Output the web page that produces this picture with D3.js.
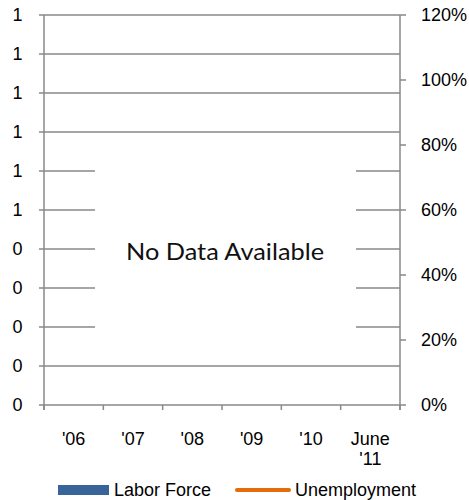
<!DOCTYPE html>
<html><head><meta charset="utf-8">
<script src="https://cdn.jsdelivr.net/npm/d3@7"></script>
<style>body{margin:0;background:#fff}svg{display:block}</style>
</head><body>
<svg id="c" width="469" height="500"></svg>
<script>
const categories = ["'06", "'07", "'08", "'09", "'10", "June\n'11"];
const seriesNames = ["Labor Force", "Unemployment"];
const seriesColors = ["#38649A", "#E46C0A"];
const laborForce = [];      // no data available
const unemployment = [];    // no data available
const leftTickValues = [0, 0.1, 0.2, 0.3, 0.4, 0.5, 0.6, 0.7, 0.8, 0.9, 1.0];
const leftTickLabels = ["0", "0", "0", "0", "0", "1", "1", "1", "1", "1", "1"];
const rightTickValues = [0, 0.2, 0.4, 0.6, 0.8, 1.0, 1.2];
const rightTickLabels = ["0%", "20%", "40%", "60%", "80%", "100%", "120%"];
const noDataText = "No Data Available";

const svg = d3.select("#c");
const L = 44, R = 400, T = 15, B = 405;
const grey = "#898989";
const font = "Liberation Sans, Arial, sans-serif";
const fs = 18;

const x = d3.scaleBand().domain(categories).range([L, R]);
const yL = d3.scaleLinear().domain([0, 1]).range([B, T]);
const yR = d3.scaleLinear().domain([0, 1.2]).range([B, T]);

// gridlines
svg.append("g").selectAll("line").data(leftTickValues).join("line")
  .attr("x1", L - 5).attr("x2", R)
  .attr("y1", d => yL(d)).attr("y2", d => yL(d))
  .attr("stroke", grey).attr("stroke-width", 1.5);

// series (empty)
const line = d3.line().x((d, i) => x(categories[i]) + x.bandwidth() / 2).y(d => yR(d));
svg.append("g").selectAll("rect").data(laborForce).join("rect")
  .attr("x", (d, i) => x(categories[i])).attr("width", x.bandwidth())
  .attr("y", d => yL(d)).attr("height", d => B - yL(d)).attr("fill", seriesColors[0]);
if (unemployment.length) svg.append("path").datum(unemployment).attr("d", line)
  .attr("fill", "none").attr("stroke", seriesColors[1]).attr("stroke-width", 3);

// no data box
svg.append("rect").attr("x", 95).attr("y", 140).attr("width", 261).attr("height", 215).attr("fill", "#fff");
svg.append("text").attr("x", 126).attr("y", 260)
  .attr("font-family", "Lato, 'Open Sans', sans-serif").attr("font-size", 23).attr("fill", "#111")
  .attr("textLength", 198).attr("lengthAdjust", "spacingAndGlyphs")
  .text(noDataText);

// left axis
const gl = svg.append("g");
gl.append("line").attr("x1", L).attr("x2", L).attr("y1", T).attr("y2", B + 5)
  .attr("stroke", grey).attr("stroke-width", 1.5);
gl.selectAll("text").data(leftTickValues).join("text")
  .attr("x", 22.5).attr("y", d => yL(d)).attr("dy", "0.36em")
  .attr("text-anchor", "end").attr("font-family", font).attr("font-size", fs)
  .text((d, i) => leftTickLabels[i]);

// right axis
const gr = svg.append("g");
gr.append("line").attr("x1", R).attr("x2", R).attr("y1", T).attr("y2", B + 5)
  .attr("stroke", grey).attr("stroke-width", 1.5);
gr.selectAll("line.t").data(rightTickValues).join("line").attr("class", "t")
  .attr("x1", R).attr("x2", R + 6).attr("y1", d => yR(d)).attr("y2", d => yR(d))
  .attr("stroke", grey).attr("stroke-width", 1.5);
gr.selectAll("text").data(rightTickValues).join("text")
  .attr("x", 421).attr("y", d => yR(d)).attr("dy", "0.36em")
  .attr("font-family", font).attr("font-size", fs)
  .text((d, i) => rightTickLabels[i]);

// x axis ticks and labels
const xTicks = categories.map(c => x(c)).concat([R]);
svg.append("g").selectAll("line").data(xTicks).join("line")
  .attr("x1", d => d).attr("x2", d => d).attr("y1", B).attr("y2", B + 5)
  .attr("stroke", grey).attr("stroke-width", 1.5);
const xl = svg.append("g").selectAll("text").data(categories).join("text")
  .attr("x", d => x(d) + x.bandwidth() / 2).attr("y", 445)
  .attr("text-anchor", "middle").attr("font-family", font).attr("font-size", fs);
xl.each(function(d) {
  const parts = d.split("\n");
  d3.select(this).selectAll("tspan").data(parts).join("tspan")
    .attr("x", x(d) + x.bandwidth() / 2).attr("dy", (p, i) => i === 0 ? 0 : 20).text(p => p);
});

// legend
const lg = svg.append("g");
lg.append("rect").attr("x", 58).attr("y", 485).attr("width", 51).attr("height", 10).attr("fill", seriesColors[0]);
lg.append("text").attr("x", 114).attr("y", 496).attr("font-family", font).attr("font-size", fs).text(seriesNames[0]);
lg.append("line").attr("x1", 237).attr("x2", 289).attr("y1", 490).attr("y2", 490)
  .attr("stroke", seriesColors[1]).attr("stroke-width", 4).attr("stroke-linecap", "round");
lg.append("text").attr("x", 295).attr("y", 496).attr("font-family", font).attr("font-size", fs).text(seriesNames[1]);
</script>
</body></html>
